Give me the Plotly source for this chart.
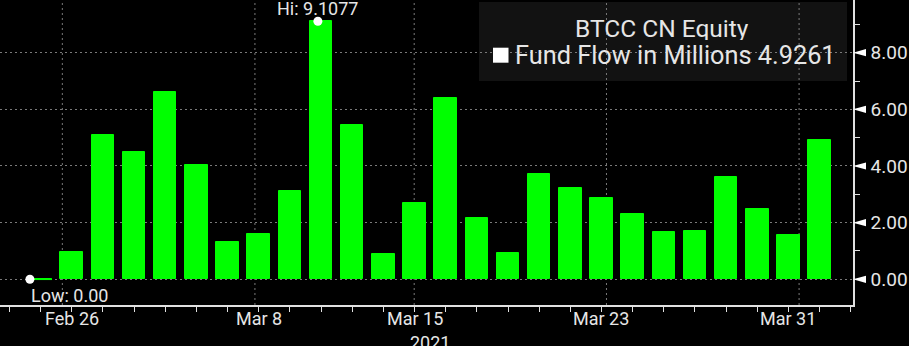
import plotly.graph_objects as go

# Daily fund flow for BTCC CN Equity (millions), one bar per trading day
dates = ["Feb 25", "Feb 26", "Mar 1", "Mar 2", "Mar 3", "Mar 4", "Mar 5",
         "Mar 8", "Mar 9", "Mar 10", "Mar 11", "Mar 12", "Mar 15", "Mar 16",
         "Mar 17", "Mar 18", "Mar 19", "Mar 22", "Mar 23", "Mar 24", "Mar 25",
         "Mar 26", "Mar 29", "Mar 30", "Mar 31", "Apr 1"]
fund_flow = [0.00, 0.97, 5.10, 4.48, 6.61, 4.03, 1.33, 1.61, 3.12, 9.1077,
             5.45, 0.88, 2.68, 6.41, 2.15, 0.92, 3.71, 3.21, 2.88, 2.29,
             1.67, 1.72, 3.60, 2.49, 1.56, 4.9261]
tick_labels = ["Feb 26", "Mar 8", "Mar 15", "Mar 23", "Mar 31"]
year_label = "2021"
security = "BTCC CN Equity"
series_name = "Fund Flow in Millions"

x = list(range(len(dates)))
tick_pos = [dates.index(t) for t in tick_labels]

hi_i = max(x, key=lambda i: fund_flow[i])
lo_i = min(x, key=lambda i: fund_flow[i])
hi_v, lo_v = fund_flow[hi_i], fund_flow[lo_i]

GREEN = "#00ff00"
TXT = "#e6e6e6"
AXIS = "#e0e0e0"
GRID = "#7a7a7a"
FONT = "Roboto"

W, H = 909, 346
ML, MR, MT, MB = 0, 56, 0, 41
PW, PH = W - ML - MR, H - MT - MB

def px_x(p):
    return p / PW

def px_y(p):
    return 1 - p / PH

fig = go.Figure()

fig.add_trace(go.Bar(
    x=x, y=fund_flow, width=0.72,
    marker=dict(color=GREEN, line=dict(color=GREEN, width=1)),
    hoverinfo="skip", showlegend=False,
))

# zero-height bar shown as a flat green stroke
fig.add_trace(go.Scatter(
    x=[lo_i - 0.34, lo_i + 0.37], y=[lo_v, lo_v], mode="lines",
    line=dict(color=GREEN, width=1.5), hoverinfo="skip", showlegend=False,
))

# high / low markers
fig.add_trace(go.Scatter(
    x=[hi_i - 0.1, lo_i - 0.34], y=[hi_v, lo_v], mode="markers",
    marker=dict(color="white", size=9), hoverinfo="skip",
    showlegend=False, cliponaxis=False,
))

shapes = []
# legend panel
shapes.append(dict(type="rect", xref="paper", yref="paper", layer="below",
                   x0=px_x(479), x1=px_x(847), y0=px_y(81), y1=px_y(2),
                   fillcolor="#121212", line=dict(width=0)))
shapes.append(dict(type="rect", xref="paper", yref="paper", layer="above",
                   x0=px_x(493), x1=px_x(508.5), y0=px_y(62.7), y1=px_y(47.7),
                   fillcolor="white", line=dict(width=0)))

# weekly vertical grid
for gx in [0.70, 6.88, 11.99, 18.16, 24.34]:
    shapes.append(dict(type="line", xref="x", yref="paper", layer="below",
                       x0=gx, x1=gx, y0=0, y1=1,
                       line=dict(color=GRID, width=1, dash="2px,3px")))

# pointer wedges beside the major value labels
tri_h = 3.6 / (PH / (9.859 + 0.907))
for v in range(0, 10, 2):
    shapes.append(dict(
        type="path", xref="paper", yref="y", layer="above",
        path=(f"M 1,{v} L {1 + px_x(13)},{v + tri_h} "
              f"L {1 + px_x(13)},{v - tri_h} Z"),
        fillcolor="white", line=dict(width=0)))

small = dict(family=FONT, size=18, color=TXT)

annotations = [
    dict(x=hi_i - 0.1, y=hi_v, xref="x", yref="y", text=f"Hi: {hi_v:.4f}",
         showarrow=False, yshift=13, font=small),
    dict(x=lo_i - 0.38, y=lo_v, xref="x", yref="y", text=f"Low: {lo_v:.2f}",
         showarrow=False, xanchor="left", yshift=-16, font=small),
    dict(x=12.5, y=px_y(342), xref="x", yref="paper", text=year_label,
         showarrow=False, yanchor="middle", font=small),
    dict(x=px_x(662), y=px_y(28.5), xref="paper", yref="paper", text=security,
         showarrow=False, xanchor="center", yanchor="middle", height=24,
         font=dict(family=FONT, size=24.5, color=TXT)),
    dict(x=px_x(513), y=px_y(55), xref="paper", yref="paper",
         text=f"{series_name} {fund_flow[-1]:.4f}", height=24,
         showarrow=False, xanchor="left", yanchor="middle",
         font=dict(family=FONT, size=25.3, color=TXT)),
]

# date labels sit tight under the axis line
for p, t in zip(tick_pos, tick_labels):
    annotations.append(dict(x=p, y=px_y(318), xref="x", yref="paper", text=t,
                            showarrow=False, yanchor="middle", font=small))

fig.update_layout(
    width=W, height=H,
    margin=dict(l=ML, r=MR, t=MT, b=MB, pad=0),
    paper_bgcolor="black", plot_bgcolor="black",
    font=dict(family=FONT, size=18, color=TXT),
    bargap=0, shapes=shapes, annotations=annotations,
    xaxis=dict(
        range=[-1.3, 26.07], tickvals=tick_pos, showticklabels=False,
        ticks="outside", ticklen=5, tickcolor=AXIS, tickwidth=1,
        minor=dict(tick0=0, dtick=1, ticks="outside", ticklen=5,
                   tickcolor=AXIS, tickwidth=1),
        showgrid=False, zeroline=False, showline=True, linecolor=AXIS,
        linewidth=1.5, fixedrange=True,
    ),
    yaxis=dict(
        side="right", range=[-0.907, 9.859], tick0=0, dtick=2,
        tickformat=".2f", ticks="", showgrid=True, gridcolor=GRID,
        griddash="2px,3px", gridwidth=1,
        minor=dict(tick0=1, dtick=2, ticks="outside", ticklen=5,
                   tickcolor=AXIS, showgrid=False),
        zeroline=False, showline=True, linecolor=AXIS, linewidth=1.5,
        ticklabelstandoff=12, tickfont=dict(family=FONT, size=19, color=TXT),
        fixedrange=True,
    ),
)

fig.write_html("out.html", config={"displayModeBar": False})
